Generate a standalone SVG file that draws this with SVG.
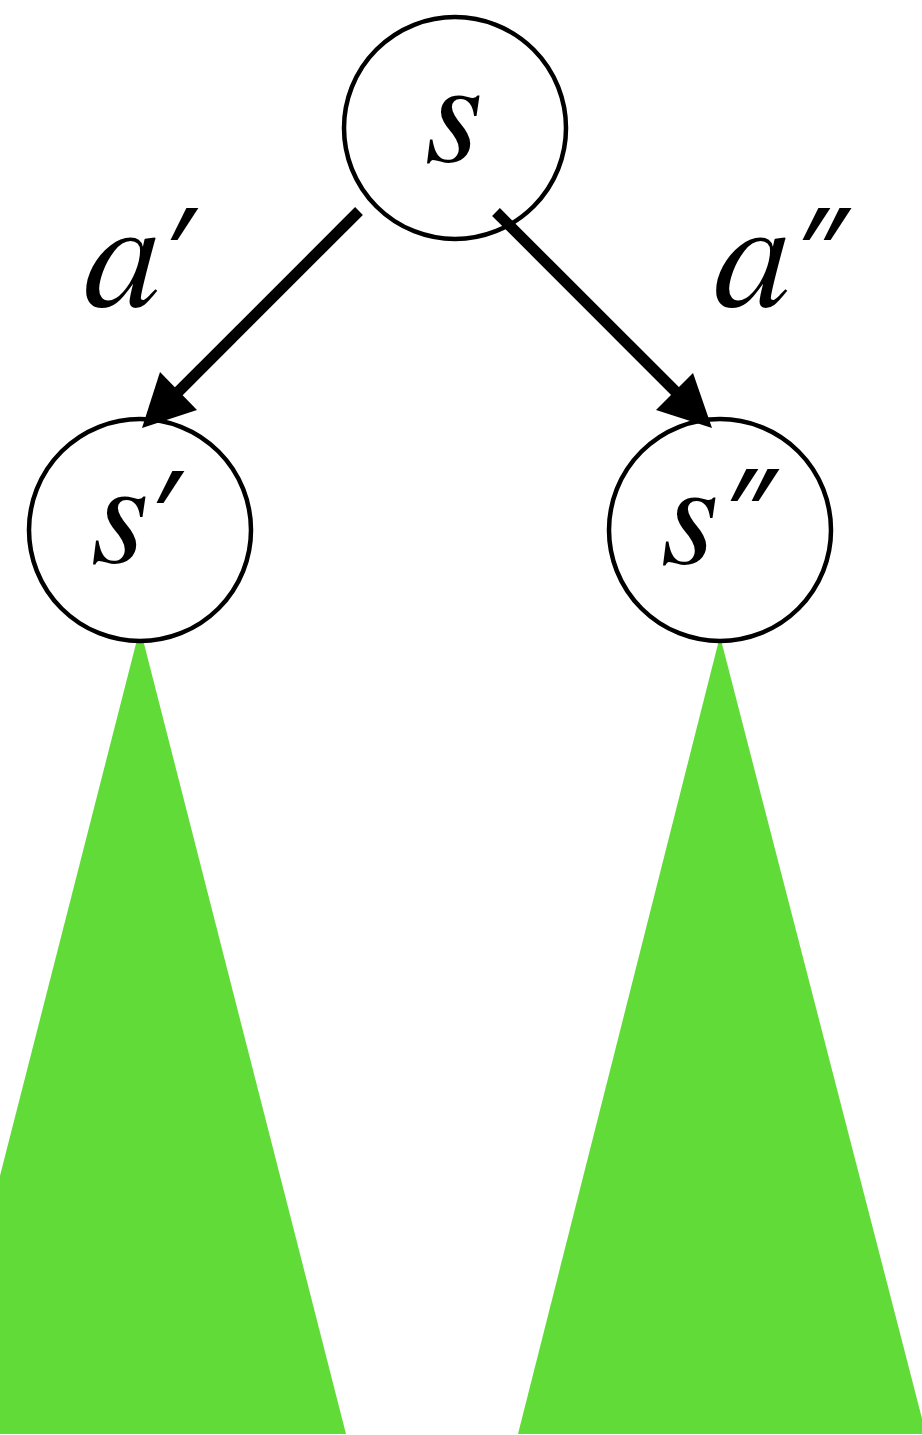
<svg xmlns="http://www.w3.org/2000/svg" width="922" height="1435" viewBox="0 0 922 1435">
<style>
.node{fill:#fff;stroke:#000;stroke-width:4.5}
.tri{fill:#61db37}
.lbl{font-family:FreeSerif,"Liberation Serif",serif;font-style:italic;fill:#000}
.nl{font-size:150px}
.el{font-size:155px}
.pr{font-family:"Noto Sans",sans-serif;font-style:italic;font-size:125px;fill:#000}
.edge{stroke:#000;stroke-width:11;fill:none}
</style>
<g id="subtrees">
<polygon class="tri" points="140,628 346,1434 -66,1434"/>
<polygon class="tri" points="720,636 926,1434 518,1434"/>
</g>
<g id="node-s">
<circle class="node" cx="455" cy="128" r="111"/>
<text class="lbl nl" x="453" y="161" text-anchor="middle">s</text>
</g>
<g id="node-s1">
<circle class="node" cx="140" cy="530" r="111"/>
<text class="lbl nl" x="119" y="562" text-anchor="middle">s</text>
<text class="pr" x="148" y="560">′</text>
</g>
<g id="node-s2">
<circle class="node" cx="720" cy="530" r="111"/>
<text class="lbl nl" x="689" y="563" text-anchor="middle">s</text>
<text class="pr" x="722" y="558">″</text>
</g>
<g id="connectors">
<line class="edge" x1="359" y1="211" x2="172" y2="398"/>
<polygon points="142,428 160,372 197,410"/>
<line class="edge" x1="496" y1="212" x2="683" y2="399"/>
<polygon points="712,428 693,373 656,410"/>
<text class="lbl el" x="122" y="306" text-anchor="middle">a</text>
<text class="pr" x="162" y="297">′</text>
<text class="lbl el" x="752" y="306" text-anchor="middle">a</text>
<text class="pr" x="794" y="297">″</text>
</g>
</svg>
